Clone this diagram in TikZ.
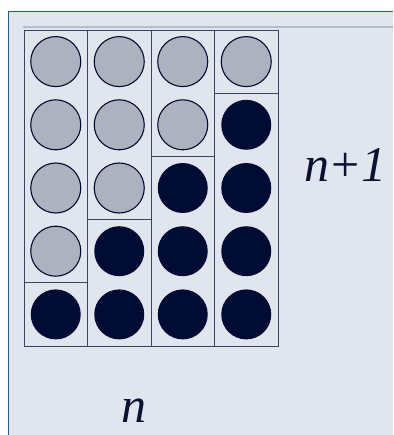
\documentclass[tikz,border=0pt]{standalone}
\usepackage{fontspec}
\setmainfont{Liberation Serif}
\usetikzlibrary{positioning}
\definecolor{panelbg}{HTML}{E1E5EE}
\definecolor{panelrim}{HTML}{2057A8}
\definecolor{rulegray}{HTML}{B9BDC9}
\definecolor{gridline}{HTML}{3A4163}
\definecolor{ballgray}{HTML}{ADB2BF}
\definecolor{balldark}{HTML}{000C33}
\definecolor{inkdark}{HTML}{0A1233}

\begin{document}
\begin{tikzpicture}[x=1pt,y=-1pt,
  ball/.style={circle,minimum size=50pt,inner sep=0pt},
  light/.style={ball,draw=balldark,fill=ballgray,line width=1.1pt},
  dark/.style={ball,fill=balldark},
  bigtext/.style={text=inkdark,font=\fontsize{50}{50}\selectfont,anchor=base}]
\useasboundingbox (0,0) rectangle (393,435);
\fill[white] (0,0) rectangle (393,435);
\fill[panelbg] (8,12) rectangle (393,435);
\draw[panelrim,line width=1pt] (8,435)--(8,12)--(393,12);
\draw[rulegray,line width=1.5pt] (23,27)--(393,27);
% staircase of balls: column \c has \k light ones on top
\foreach \c/\k in {1/4,2/3,3/2,4/1}{
  \foreach \r in {1,...,5}{
    \ifnum\r>\k \def\bstyle{dark}\else\def\bstyle{light}\fi
    \node[\bstyle] (b\c\r) at ({24+(\c-0.5)*63.5},{30+(\r-0.5)*63.2}) {};
  }
  \draw[gridline,line width=0.8pt] ({24+(\c-1)*63.5},{30+\k*63.2})--({24+\c*63.5},{30+\k*63.2});
}
\draw[gridline,line width=0.8pt] (24,30) rectangle (278,346);
\foreach \c in {1,2,3}
  \draw[gridline,line width=0.8pt] ({24+\c*63.5},30)--({24+\c*63.5},346);
\node[bigtext] (rows) at (345.5,182) {\itshape n\kern2pt\upshape+\kern2pt\itshape 1};
\node[bigtext] (cols) at (133.5,422) {\itshape n};
\end{tikzpicture}
\end{document}
